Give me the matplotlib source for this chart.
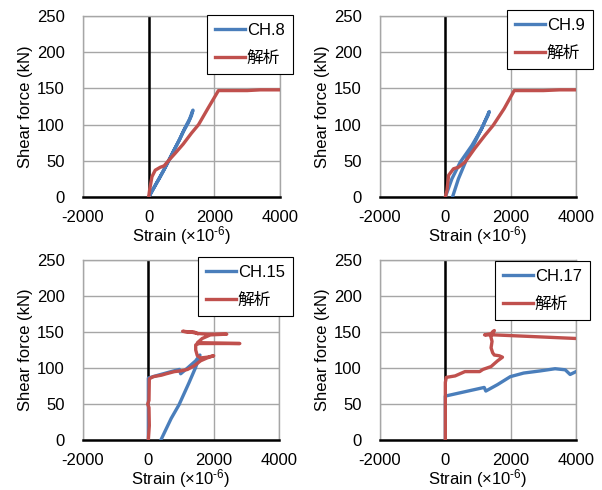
import matplotlib
matplotlib.use("Agg")
import matplotlib.pyplot as plt

plt.rcParams['font.family'] = ['Liberation Sans', 'Noto Sans CJK JP', 'DejaVu Sans']
plt.rcParams['mathtext.fontset'] = 'custom'
plt.rcParams['mathtext.rm'] = 'Liberation Sans'
plt.rcParams['mathtext.it'] = 'Liberation Sans'
plt.rcParams['axes.unicode_minus'] = False

BLUE = '#4A7EBB'
RED = '#C0504D'

# ---- Panel 1: CH.8 ----
ch8_x = [0, 150, 350, 550, 750, 950, 1100, 1250, 1330, 1350, 1300, 1200, 1050, 900, 700, 450, 200, 30]
ch8_y = [0, 12, 28, 45, 63, 80, 95, 108, 118, 120, 112, 102, 90, 76, 58, 36, 16, 2]
an1_x = [0, 30, 100, 200, 350, 470, 600, 800, 1050, 1300, 1520, 1800, 2125, 2500, 3000, 3400, 4000]
an1_y = [0, 10, 28, 37, 41, 43, 50, 60, 73, 88, 100, 122, 147, 147, 147, 148, 148]

# ---- Panel 2: CH.9 ----
ch9_x = [0, 200, 455, 810, 1110, 1313, 1345, 1300, 1210, 910, 660, 400, 220]
ch9_y = [0, 25, 48, 71, 94, 115, 118, 112, 104, 76, 53, 25, 0]
an2_x = [0, 50, 100, 250, 400, 600, 900, 1210, 1465, 1800, 2108, 2500, 3000, 3500, 4000]
an2_y = [0, 9, 30, 39, 41, 48, 67, 85, 99, 122, 147, 147, 147, 148, 148]

# ---- Panel 3: CH.15 ----
ch15_x = [0, 0, 300, 700, 950, 990, 1200, 1450, 1580, 1530, 1480, 1440, 1240, 940, 700, 384]
ch15_y = [0, 86, 90, 95, 98, 92, 100, 110, 118, 110, 105, 100, 79, 49, 30, 0]
an3_x = [0, 30, 20, -20, 20, 30, 150, 400, 550, 800, 1000, 1200, 1400, 1600, 1800, 2000, 1800, 1600,
         1500, 1450, 1450, 1550, 2800, 1500, 1650, 1900, 2400, 1800, 1500, 1300, 1050, 1200, 1400, 1500]
an3_y = [0, 20, 45, 50, 55, 85, 88, 90, 92, 95, 96, 98, 103, 110, 114, 117, 115, 114,
         117, 125, 132, 134, 134, 135, 141, 146, 147, 147, 148, 150, 151, 150, 150, 148]

# ---- Panel 4: CH.17 ----
ch17_x = [0, 0, 1190, 1240, 1600, 1990, 2400, 2910, 3360, 3670, 3820, 4000]
ch17_y = [0, 61, 73, 68, 77, 88, 93, 96, 99, 97.5, 91, 95]
an4_x = [0, 0, 0, 30, 300, 500, 600, 1050, 1150, 1400, 1600, 1750, 1650, 1500, 1450, 1400, 1430,
         1390, 1440, 1500, 1450, 1200, 1500, 4000]
an4_y = [0, 40, 80, 87, 89, 93, 95, 95, 98, 102, 110, 115, 117, 118, 121, 128, 137,
         144, 150, 152, 148, 146, 146, 141]

ch_labels = ['CH.8', 'CH.9', 'CH.15', 'CH.17']
an_label = '解析'
x_ticks = [-2000, 0, 2000, 4000]
y_ticks = [0, 50, 100, 150, 200, 250]

panels = [
    (ch8_x, ch8_y, an1_x, an1_y),
    (ch9_x, ch9_y, an2_x, an2_y),
    (ch15_x, ch15_y, an3_x, an3_y),
    (ch17_x, ch17_y, an4_x, an4_y),
]

W, H = 602, 490
fig = plt.figure(figsize=(W / 100, H / 100), dpi=100)

# axes boxes in pixels: left, top, right, bottom
boxes = [(83, 16, 280, 197), (380, 16, 576, 197), (83, 260, 279, 440), (380, 260, 576, 440)]
legend_anchor = [(293, 15), (593, 10), (293, 257), (590, 261)]

FS = 12
for i, (bx, by, ax_, ay_) in enumerate(panels):
    l, t, r, b = boxes[i]
    ax = fig.add_axes([l / W, 1 - b / H, (r - l) / W, (b - t) / H])
    ax.set_xlim(-2000, 4000)
    ax.set_ylim(0, 250)
    ax.set_xticks(x_ticks)
    ax.set_yticks(y_ticks)
    ax.grid(True, color='#A6A6A6', lw=1.0)
    ax.set_axisbelow(True)
    for s in ['left', 'right', 'top']:
        ax.spines[s].set_color('#A6A6A6')
        ax.spines[s].set_linewidth(1.0)
    ax.spines['bottom'].set_color('black')
    ax.spines['bottom'].set_linewidth(1.8)
    ax.axvline(0, color='black', lw=1.8, zorder=1.5)
    ax.tick_params(axis='y', length=0, labelsize=FS, pad=13)
    ax.tick_params(axis='x', length=0, labelsize=FS, pad=9)
    ax.plot(bx, by, color=BLUE, lw=2.4, label=ch_labels[i], zorder=3, solid_joinstyle='round')
    ax.plot(ax_, ay_, color=RED, lw=2.4, label=an_label, zorder=3, solid_joinstyle='round')
    ax.set_xlabel('Strain (×10$^{\u20106}$)', fontsize=FS, labelpad=0)
    ax.set_ylabel('Shear force (kN)', fontsize=FS, labelpad=3)
    lx, ly = legend_anchor[i]
    leg = ax.legend(loc='upper right', bbox_to_anchor=(lx / W, 1 - ly / H),
                    bbox_transform=fig.transFigure, fontsize=FS, frameon=True,
                    fancybox=False, edgecolor='black', framealpha=1,
                    handlelength=1.8, handletextpad=0.1, borderpad=0.5,
                    labelspacing=0.75, borderaxespad=0)
    leg.get_frame().set_linewidth(0.8)
    leg.set_zorder(10)

fig.savefig('out.png', dpi=100)
